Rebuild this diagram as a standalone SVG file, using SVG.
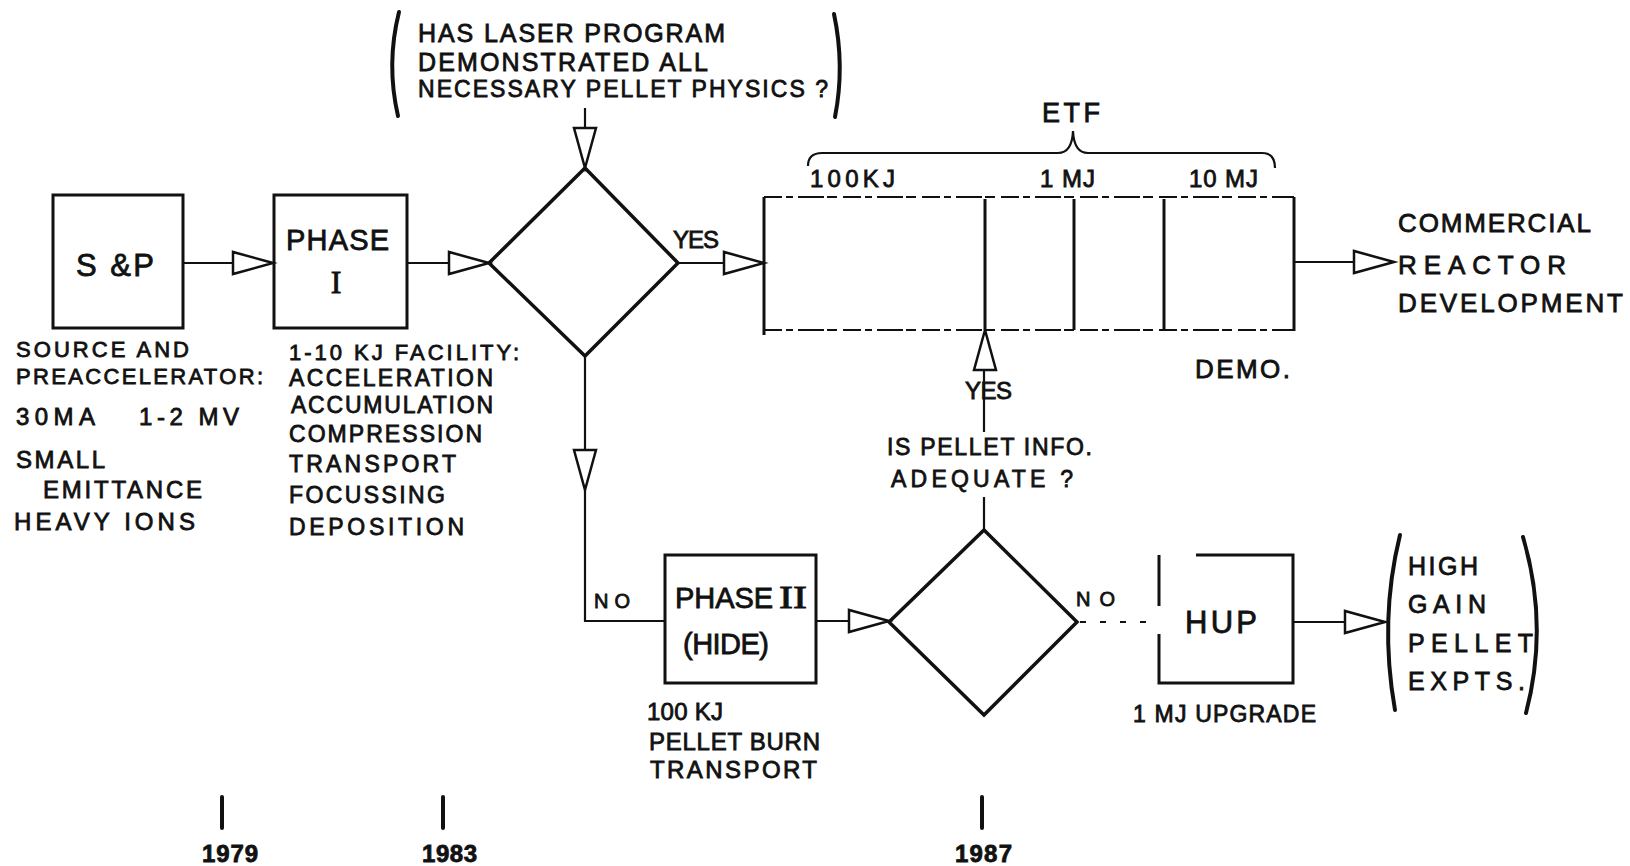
<svg xmlns="http://www.w3.org/2000/svg" width="1630" height="866" viewBox="0 0 1630 866">
<style>
 .t{font-family:"Liberation Sans",Arial,sans-serif;fill:#111;stroke:#111;stroke-width:0.8}
 .s{font-family:"Liberation Serif","Times New Roman",serif}
 .b{font-weight:bold}
 .box{fill:none;stroke:#111;stroke-width:3}
 .dia{fill:none;stroke:#111;stroke-width:3.5;stroke-linejoin:miter}
 .ln{fill:none;stroke:#111;stroke-width:2.2}
 .dash{fill:none;stroke:#111;stroke-width:2.2;stroke-dasharray:18 4 7 5 26 3 10 6}
 .ah{fill:#fff;stroke:#111;stroke-width:2.5;stroke-linejoin:miter}
 .par{fill:none;stroke:#111;stroke-width:4;stroke-linecap:round}
 .tick{stroke:#111;stroke-width:4;stroke-linecap:round}
</style>
<defs>
 <path id="tri" d="M0,0 L-40,-11 L-40,11 Z"/>
</defs>
<rect width="1630" height="866" fill="#fff"/>

<g id="question1">
 <path class="par" d="M399,12 Q386,64 398,116"/>
 <path class="par" d="M834,14 Q845,66 835,117"/>
 <text class="t" x="418" y="42" font-size="25" textLength="307" lengthAdjust="spacing">HAS LASER PROGRAM</text>
 <text class="t" x="418" y="71" font-size="25" textLength="290" lengthAdjust="spacing">DEMONSTRATED ALL</text>
 <text class="t" x="418" y="97" font-size="23" textLength="410" lengthAdjust="spacing">NECESSARY PELLET PHYSICS ?</text>
</g>

<g id="sp">
 <rect class="box" x="53" y="195" width="130" height="133"/>
 <text class="t" x="76" y="276" font-size="31" textLength="78" lengthAdjust="spacing">S &amp;P</text>
 <text class="t" x="16" y="357" font-size="22" textLength="173" lengthAdjust="spacing">SOURCE AND</text>
 <text class="t" x="16" y="384" font-size="22" textLength="247" lengthAdjust="spacing">PREACCELERATOR:</text>
 <text class="t" x="16" y="425" font-size="24" textLength="79" lengthAdjust="spacing">30MA</text>
 <text class="t" x="139" y="425" font-size="24" textLength="100" lengthAdjust="spacing">1-2 MV</text>
 <text class="t" x="16" y="468" font-size="24" textLength="89" lengthAdjust="spacing">SMALL</text>
 <text class="t" x="43" y="498" font-size="24" textLength="159" lengthAdjust="spacing">EMITTANCE</text>
 <text class="t" x="14" y="530" font-size="24" textLength="181" lengthAdjust="spacing">HEAVY IONS</text>
</g>

<g id="phase1">
 <rect class="box" x="274" y="195" width="133" height="133"/>
 <text class="t" x="286" y="250" font-size="29" textLength="103" lengthAdjust="spacing">PHASE</text>
 <text class="t s" x="336" y="293" font-size="32" text-anchor="middle">I</text>
 <text class="t" x="289" y="360" font-size="22" textLength="230" lengthAdjust="spacing">1-10 KJ FACILITY:</text>
 <text class="t" x="289" y="386" font-size="23" textLength="204" lengthAdjust="spacing">ACCELERATION</text>
 <text class="t" x="291" y="413" font-size="23" textLength="202" lengthAdjust="spacing">ACCUMULATION</text>
 <text class="t" x="289" y="442" font-size="23" textLength="193" lengthAdjust="spacing">COMPRESSION</text>
 <text class="t" x="289" y="472" font-size="23" textLength="167" lengthAdjust="spacing">TRANSPORT</text>
 <text class="t" x="289" y="503" font-size="23" textLength="156" lengthAdjust="spacing">FOCUSSING</text>
 <text class="t" x="289" y="535" font-size="23" textLength="175" lengthAdjust="spacing">DEPOSITION</text>
</g>

<g id="decision1">
 <polygon class="dia" points="585,168 678,263 585,356 489,263"/>
</g>

<g id="etf">
 <path class="ln" stroke-width="2.5" d="M808,166 Q808,153 822,153 L1058,153 Q1072,153 1073,131 Q1074,153 1088,153 L1262,153 Q1275,153 1275,168"/>
 <text class="t" x="1042" y="122" font-size="27" textLength="58" lengthAdjust="spacing">ETF</text>
 <text class="t" x="810" y="187" font-size="24" textLength="85" lengthAdjust="spacing">100KJ</text>
 <text class="t" x="1040" y="187" font-size="24" textLength="55" lengthAdjust="spacing">1 MJ</text>
 <text class="t" x="1189" y="187" font-size="24" textLength="69" lengthAdjust="spacing">10 MJ</text>
 <line class="dash" x1="764" y1="197" x2="1294" y2="197"/>
 <line class="dash" x1="764" y1="330" x2="1294" y2="330"/>
 <line class="box" x1="764" y1="197" x2="764" y2="335"/>
 <line class="box" x1="1294" y1="197" x2="1294" y2="331"/>
 <line class="box" stroke-width="2.5" x1="985" y1="199" x2="985" y2="330"/>
 <line class="box" stroke-width="2.5" x1="1074" y1="199" x2="1074" y2="330"/>
 <line class="box" stroke-width="2.5" x1="1164" y1="199" x2="1164" y2="330"/>
 <text class="t" x="1195" y="378" font-size="26" textLength="95" lengthAdjust="spacing">DEMO.</text>
</g>

<g id="commercial">
 <text class="t" x="1398" y="232" font-size="26" textLength="193" lengthAdjust="spacing">COMMERCIAL</text>
 <text class="t" x="1398" y="274" font-size="26" textLength="168" lengthAdjust="spacing">REACTOR</text>
 <text class="t" x="1398" y="312" font-size="26" textLength="225" lengthAdjust="spacing">DEVELOPMENT</text>
</g>

<g id="phase2">
 <rect class="box" x="665" y="555" width="151" height="128"/>
 <text class="t" x="675" y="608" font-size="29" textLength="98" lengthAdjust="spacing">PHASE</text>
 <text class="t s" x="779" y="608" font-size="31" textLength="28" lengthAdjust="spacingAndGlyphs">II</text>
 <text class="t" x="683" y="654" font-size="29" textLength="86" lengthAdjust="spacing">(HIDE)</text>
 <text class="t" x="647" y="720" font-size="24" textLength="76" lengthAdjust="spacing">100 KJ</text>
 <text class="t" x="649" y="750" font-size="24" textLength="171" lengthAdjust="spacing">PELLET BURN</text>
 <text class="t" x="650" y="778" font-size="24" textLength="167" lengthAdjust="spacing">TRANSPORT</text>
</g>

<g id="decision2">
 <polygon class="dia" points="984,530 1077,622 984,715 889,622"/>
 <text class="t" x="887" y="455" font-size="23" textLength="205" lengthAdjust="spacing">IS PELLET INFO.</text>
 <text class="t" x="891" y="487" font-size="23" textLength="182" lengthAdjust="spacing">ADEQUATE ?</text>
</g>

<g id="hup">
 <path class="box" d="M1159,555 L1159,606 M1159,634 L1159,683 L1293,683 L1293,555 L1196,555"/>
 <text class="t" x="1185" y="633" font-size="31" textLength="72" lengthAdjust="spacing">HUP</text>
 <text class="t" x="1133" y="722" font-size="23" textLength="183" lengthAdjust="spacing">1 MJ UPGRADE</text>
</g>

<g id="highgain">
 <path class="par" d="M1400,535 Q1379,620 1395,710"/>
 <path class="par" d="M1523,537 Q1549,625 1526,713"/>
 <text class="t" x="1408" y="575" font-size="25" textLength="70" lengthAdjust="spacing">HIGH</text>
 <text class="t" x="1408" y="613" font-size="25" textLength="78" lengthAdjust="spacing">GAIN</text>
 <text class="t" x="1408" y="652" font-size="25" textLength="125" lengthAdjust="spacing">PELLET</text>
 <text class="t" x="1408" y="690" font-size="25" textLength="117" lengthAdjust="spacing">EXPTS.</text>
</g>

<g id="connectors">
 <line class="ln" x1="183" y1="263" x2="233" y2="263"/>
 <use href="#tri" class="ah" transform="translate(273,263)"/>
 <line class="ln" x1="407" y1="263" x2="452" y2="263"/>
 <use href="#tri" class="ah" transform="translate(489,263)"/>
 <line class="ln" x1="585" y1="108" x2="585" y2="130"/>
 <use href="#tri" class="ah" transform="translate(585,168) rotate(90)"/>
 <line class="ln" x1="678" y1="263" x2="727" y2="263"/>
 <use href="#tri" class="ah" transform="translate(764,263)"/>
 <text class="t" x="673" y="248" font-size="24" textLength="46" lengthAdjust="spacing">YES</text>
 <line class="ln" x1="1294" y1="262" x2="1355" y2="262"/>
 <use href="#tri" class="ah" transform="translate(1394,262)"/>
 <polyline class="ln" points="585,356 585,452"/>
 <use href="#tri" class="ah" transform="translate(585,490) rotate(90)"/>
 <polyline class="ln" points="585,490 585,621 665,621"/>
 <text class="t" x="594" y="608" font-size="20" textLength="36" lengthAdjust="spacing">NO</text>
 <line class="ln" x1="816" y1="621" x2="853" y2="621"/>
 <use href="#tri" class="ah" transform="translate(889,621)"/>
 <line class="ln" x1="984" y1="530" x2="984" y2="497"/>
 <line class="ln" x1="984" y1="432" x2="984" y2="368"/>
 <use href="#tri" class="ah" transform="translate(985,330) rotate(-90)"/>
 <text class="t" x="965" y="399" font-size="24" textLength="47" lengthAdjust="spacing">YES</text>
 <text class="t" x="1076" y="606" font-size="20" textLength="39" lengthAdjust="spacing">NO</text>
 <line class="ln" stroke-width="1.5" stroke-dasharray="6 14" x1="1080" y1="622" x2="1150" y2="622"/>
 <line class="ln" x1="1293" y1="622" x2="1345" y2="622"/>
 <use href="#tri" class="ah" transform="translate(1385,622)"/>
</g>

<g id="timeline">
 <line class="tick" x1="222" y1="797" x2="222" y2="828"/>
 <line class="tick" x1="443" y1="797" x2="443" y2="828"/>
 <line class="tick" x1="982" y1="797" x2="982" y2="828"/>
 <text class="t b" x="202" y="862" font-size="24" textLength="56" lengthAdjust="spacing">1979</text>
 <text class="t b" x="422" y="862" font-size="24" textLength="55" lengthAdjust="spacing">1983</text>
 <text class="t b" x="955" y="862" font-size="24" textLength="57" lengthAdjust="spacing">1987</text>
</g>
</svg>
